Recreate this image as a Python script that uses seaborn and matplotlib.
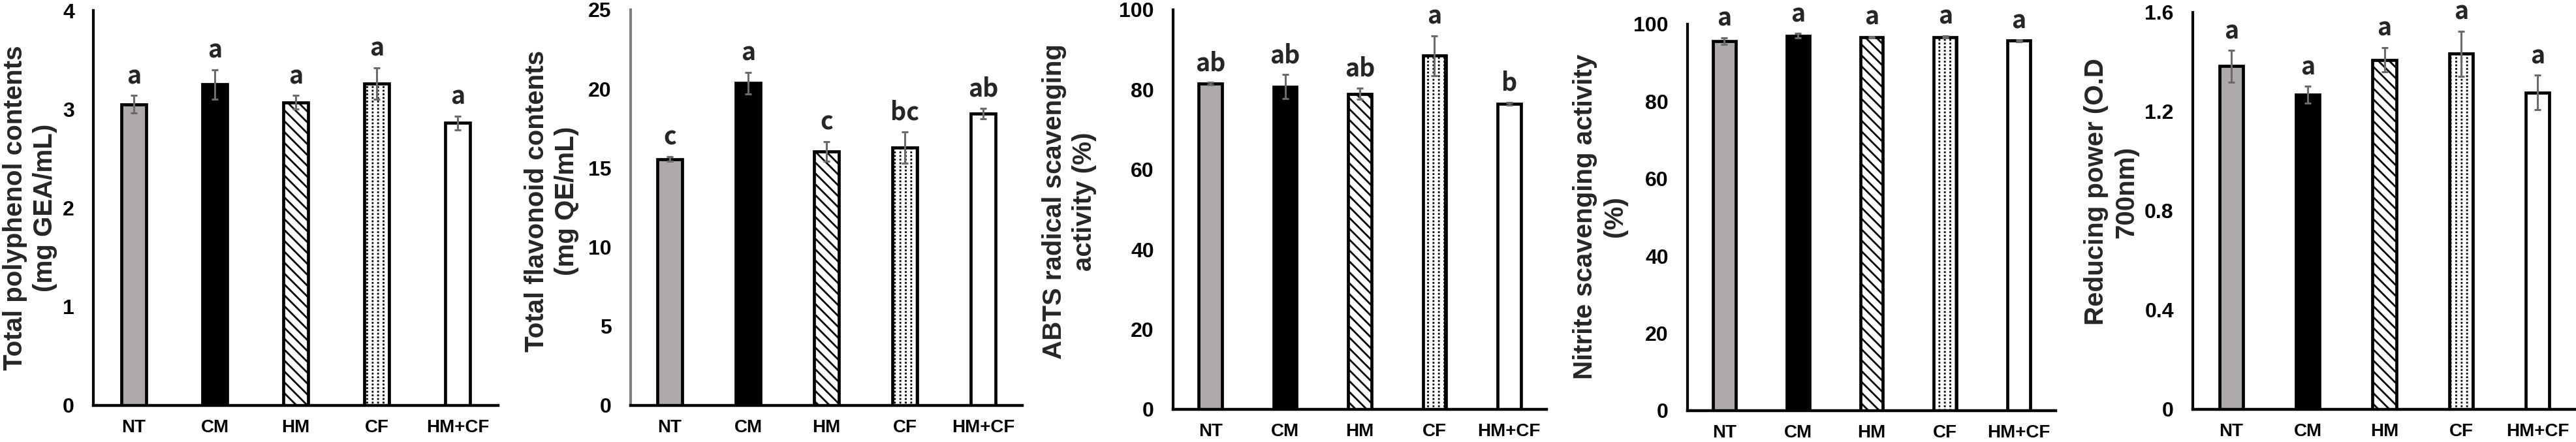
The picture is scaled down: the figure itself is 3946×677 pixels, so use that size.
import numpy as np
import pandas as pd
import matplotlib
matplotlib.use("Agg")
import matplotlib.pyplot as plt
from matplotlib.patches import Rectangle
import seaborn as sns

# ---------------- data ----------------
groups = ["NT", "CM", "HM", "CF", "HM+CF"]

polyphenol_mean = [3.05, 3.25, 3.07, 3.26, 2.86]
polyphenol_sd = [0.09, 0.15, 0.07, 0.16, 0.07]
polyphenol_letters = ["a", "a", "a", "a", "a"]

flavonoid_mean = [15.57, 20.37, 16.05, 16.30, 18.45]
flavonoid_sd = [0.16, 0.69, 0.63, 1.00, 0.32]
flavonoid_letters = ["c", "a", "c", "bc", "ab"]

abts_mean = [81.5, 80.8, 79.0, 88.5, 76.5]
abts_sd = [0.3, 3.0, 1.4, 5.0, 0.3]
abts_letters = ["ab", "ab", "ab", "a", "b"]

nitrite_mean = [95.6, 97.0, 96.6, 96.7, 95.7]
nitrite_sd = [0.9, 0.6, 0.2, 0.3, 0.2]
nitrite_letters = ["a", "a", "a", "a", "a"]

reducing_mean = [1.383, 1.268, 1.409, 1.433, 1.277]
reducing_sd = [0.064, 0.034, 0.049, 0.091, 0.070]
reducing_letters = ["a", "a", "a", "a", "a"]

ylabels = [
    "Total polyphenol contents\n(mg GEA/mL)",
    "Total flavonoid contents\n(mg QE/mL)",
    "ABTS radical scavenging\nactivity (%)",
    "Nitrite scavenging activity\n(%)",
    "Reducing power (O.D\n700nm)",
]
yticks_list = [
    [0, 1, 2, 3, 4],
    [0, 5, 10, 15, 20, 25],
    [0, 20, 40, 60, 80, 100],
    [0, 20, 40, 60, 80, 100],
    [0, 0.4, 0.8, 1.2, 1.6],
]
ytick_labels = [
    ["0", "1", "2", "3", "4"],
    ["0", "5", "10", "15", "20", "25"],
    ["0", "20", "40", "60", "80", "100"],
    ["0", "20", "40", "60", "80", "100"],
    ["0", "0.4", "0.8", "1.2", "1.6"],
]

# ---------------- style ----------------
sns.set_style("white")
plt.rcParams["font.family"] = ["Liberation Sans", "DejaVu Sans"]
plt.rcParams["hatch.linewidth"] = 2.0

fills = {"NT": "#AEAAAA", "CM": "#000000", "HM": "#FFFFFF", "CF": "#FFFFFF", "HM+CF": "#FFFFFF"}
hatches = {"NT": None, "CM": None, "HM": "\\\\", "CF": "||", "HM+CF": None}

W, H = 3946, 677
fig = plt.figure(figsize=(W / 100, H / 100), dpi=100)

# axes rectangles in pixels: left, top, right, bottom
rects = [
    (143, 16, 763, 621),
    (966, 15, 1566, 621),
    (1797, 15, 2369, 627),
    (2585, 37, 3149, 629),
    (3359, 19, 3946, 627),
]
# ylabel block centers in pixels
label_centers = [(46, 318), (845, 308), (1638, 309), (2451, 332), (3234, 294)]
left_spine_colors = ["black", "#7F7F7F", "black", "black", "black"]

panels = [
    (polyphenol_mean, polyphenol_sd, polyphenol_letters),
    (flavonoid_mean, flavonoid_sd, flavonoid_letters),
    (abts_mean, abts_sd, abts_letters),
    (nitrite_mean, nitrite_sd, nitrite_letters),
    (reducing_mean, reducing_sd, reducing_letters),
]

for k, (means, sds, letters) in enumerate(panels):
    l, t, r, b = rects[k]
    ax = fig.add_axes([l / W, (H - b) / H, (r - l) / W, (b - t) / H])
    df = pd.DataFrame({"group": groups, "value": means, "sd": sds})
    sns.barplot(data=df, x="group", y="value", hue="group", palette=fills,
                order=groups, hue_order=groups, width=0.31, errorbar=None,
                legend=False, edgecolor="black", linewidth=3.4, saturation=1,
                ax=ax, zorder=2)
    yt = yticks_list[k]
    ax.set_ylim(0, yt[-1])
    ax.set_xlim(-0.5, len(groups) - 0.5)

    bars = sorted([p for p in ax.patches], key=lambda p: p.get_x())
    px_x = (len(groups)) / (r - l)     # data units per pixel (x)
    px_y = yt[-1] / (b - t)            # data units per pixel (y)
    for g, p in zip(groups, bars):
        h = hatches[g]
        if h:
            p.set_hatch(h)
        if g == "CF":
            # white horizontal breaks turn the vertical hatch into dashed lines
            x0, w0, h0 = p.get_x(), p.get_width(), p.get_height()
            ax.add_patch(Rectangle((x0 + 3 * px_x, 0), w0 - 6 * px_x, h0 - 3 * px_y,
                                   facecolor="none", edgecolor="white", linewidth=0,
                                   hatch="---", zorder=2.5))
    ax.errorbar(np.arange(len(groups)), df["value"], yerr=df["sd"], fmt="none",
                ecolor="#6B6B6B", elinewidth=2.2, capsize=3.6, capthick=2.2, zorder=3)
    for i, (m, s, lab) in enumerate(zip(means, sds, letters)):
        ax.annotate(lab, xy=(i, m + s), xytext=(0, 13), textcoords="offset points",
                    ha="center", va="baseline", fontsize=27, fontweight="bold",
                    family=["Noto Sans CJK KR", "DejaVu Sans"], annotation_clip=False)

    ax.set_yticks(yt)
    ax.set_yticklabels(ytick_labels[k], fontsize=23, fontweight="bold")
    ax.set_xticks(range(len(groups)))
    ax.set_xticklabels(groups, fontsize=20, fontweight="bold")
    ax.set_xlabel("")
    for side in ["top", "right"]:
        ax.spines[side].set_visible(False)
    ax.spines["bottom"].set_linewidth(3.2)
    ax.spines["bottom"].set_color("black")
    ax.spines["left"].set_linewidth(3.0)
    ax.spines["left"].set_color(left_spine_colors[k])
    ax.tick_params(axis="y", direction="in", length=8, width=3,
                   color=left_spine_colors[k], pad=21, labelcolor="black")
    ax.tick_params(axis="x", length=0, pad=15, labelcolor="black")
    ax.set_ylabel(ylabels[k], fontsize=29, fontweight="bold", linespacing=1.25,
                  ha="center", va="center")
    cx, cy = label_centers[k]
    ax.yaxis.set_label_coords((cx - l) / (r - l), (b - cy) / (b - t))
    ax.grid(False)
    ax.set_facecolor("white")

fig.savefig("out.png", dpi=100, facecolor="white")
